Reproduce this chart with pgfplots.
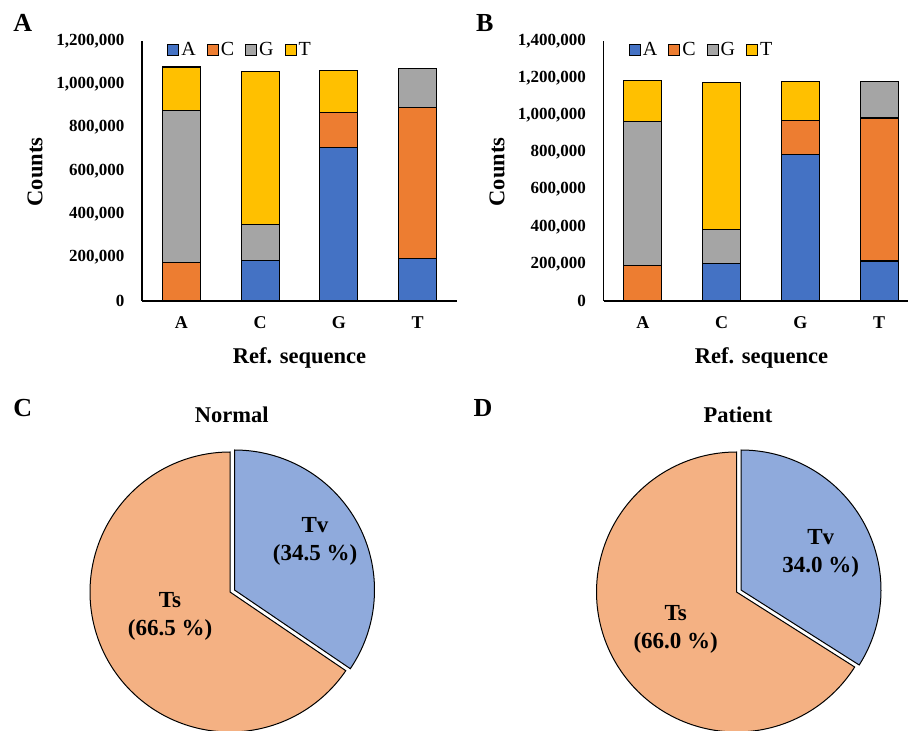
\documentclass[border=0pt]{standalone}
\usepackage{fontspec}
\setmainfont{Liberation Serif}
\usepackage{pgfplots}
\pgfplotsset{compat=1.18}
\usepgfplotslibrary{polar}
\definecolor{cA}{HTML}{4472C4}
\definecolor{cC}{HTML}{ED7D31}
\definecolor{cG}{HTML}{A5A5A5}
\definecolor{cT}{HTML}{FFC000}
\definecolor{cTs}{HTML}{F4B183}
\definecolor{cTv}{HTML}{8FAADC}
\pgfplotsset{
 barax/.style={
  scale only axis, width=315pt, height=260pt,
  ybar stacked, bar width=38pt,
  legend image code/.code={\draw[##1, line width=1pt] (0pt,-5.5pt) rectangle (11pt,5.5pt);},
  xmin=-0.5, xmax=3.5, ymin=0,
  xtick={0,1,2,3}, xticklabels={A,C,G,T},
  axis x line*=bottom, axis y line*=left,
  axis line style={line width=1.4pt},
  major tick length=0pt,
  scaled y ticks=false,
  yticklabel style={font=\bfseries\fontsize{17}{17}\selectfont, /pgf/number format/fixed, /pgf/number format/1000 sep={,}, /pgf/number format/assume math mode=true, xshift=-14pt},
  xticklabel style={font=\bfseries\fontsize{18}{18}\selectfont, yshift=-12pt},
  every axis plot/.append style={draw=black, line width=1.2pt},
  legend style={draw=none, fill=none, legend columns=-1, at={(rel axis cs:0.08,0.965)}, anchor=west, inner sep=0pt, font=\fontsize{20}{20}\selectfont, /tikz/every even column/.append style={column sep=9pt}},
 },
 pieax/.style={scale only axis, width=280pt, height=280pt, hide axis, xmin=0, xmax=360, ymin=0, ymax=140, clip=false, anchor=center},
}
\begin{document}
\begin{tikzpicture}
\useasboundingbox (0,0) rectangle (908pt,731pt);
% Panel A
\begin{axis}[barax, at={(142pt,430pt)}, anchor=south west, ymax=1200000, ytick={0,200000,400000,600000,800000,1000000,1200000}]
\addplot[fill=cA] coordinates {(0,0) (1,187000) (2,707000) (3,196000)};
\addplot[fill=cC] coordinates {(0,176000) (1,0) (2,163000) (3,697000)};
\addplot[fill=cG] coordinates {(0,702000) (1,166000) (2,0) (3,180000)};
\addplot[fill=cT] coordinates {(0,202000) (1,706000) (2,192000) (3,0)};
\legend{A,C,G,T}
\end{axis}
% Panel B
\begin{axis}[barax, at={(603.5pt,430pt)}, anchor=south west, ymax=1400000, ytick={0,200000,400000,600000,800000,1000000,1200000,1400000}]
\addplot[fill=cA] coordinates {(0,0) (1,202000) (2,790000) (3,215000)};
\addplot[fill=cC] coordinates {(0,193000) (1,0) (2,181000) (3,770000)};
\addplot[fill=cG] coordinates {(0,773000) (1,184000) (2,0) (3,195000)};
\addplot[fill=cT] coordinates {(0,220000) (1,791000) (2,209000) (3,0)};
\legend{A,C,G,T}
\end{axis}
% Panel C pie (Normal): Ts 66.5 %, Tv 34.5 % (124.2 deg)
\begin{polaraxis}[pieax, at={(230pt,139pt)}]
\addplot[fill=cTs, draw=black, line width=1pt, domain=90:325.8, samples=150] {140} -- (axis cs:0,0) -- cycle;
\end{polaraxis}
\begin{polaraxis}[pieax, at={(234.5pt,141pt)}]
\addplot[fill=cTv, draw=black, line width=1pt, domain=-34.2:90, samples=100] {140} -- (axis cs:0,0) -- cycle;
\end{polaraxis}
% Panel D pie (Patient): Ts 66.0 %, Tv 34.0 % (122.4 deg)
\begin{polaraxis}[pieax, at={(736.5pt,139pt)}]
\addplot[fill=cTs, draw=black, line width=1pt, domain=90:327.6, samples=150] {140} -- (axis cs:0,0) -- cycle;
\end{polaraxis}
\begin{polaraxis}[pieax, at={(741pt,141pt)}]
\addplot[fill=cTv, draw=black, line width=1pt, domain=-32.4:90, samples=100] {140} -- (axis cs:0,0) -- cycle;
\end{polaraxis}
% labels
\begin{scope}[every node/.style={font=\bfseries\fontsize{22.5}{22.5}\selectfont, inner sep=0pt}]
\node[rotate=90] at (35pt,559pt) {Counts};
\node[rotate=90] at (497pt,559pt) {Counts};
\node at (299.5pt,373pt) {Ref. sequence};
\node at (761.5pt,373pt) {Ref. sequence};
\node at (231.7pt,316pt) {Normal};
\node at (738pt,316pt) {Patient};
\end{scope}
\begin{scope}[every node/.style={font=\bfseries\fontsize{26}{26}\selectfont, inner sep=0pt}]
\node at (22.7pt,708.3pt) {A};
\node at (484.7pt,708.3pt) {B};
\node at (22.7pt,322.7pt) {C};
\node at (483pt,322.7pt) {D};
\end{scope}
\begin{scope}[every node/.style={font=\bfseries\fontsize{23}{28}\selectfont, inner sep=0pt, align=center}]
\node at (315pt,190pt) {Tv\\(34.5 \%)};
\node at (170pt,114.5pt) {Ts\\(66.5 \%)};
\node at (820.7pt,177.5pt) {Tv\\34.0 \%)};
\node at (675.7pt,102pt) {Ts\\(66.0 \%)};
\end{scope}
\end{tikzpicture}
\end{document}
